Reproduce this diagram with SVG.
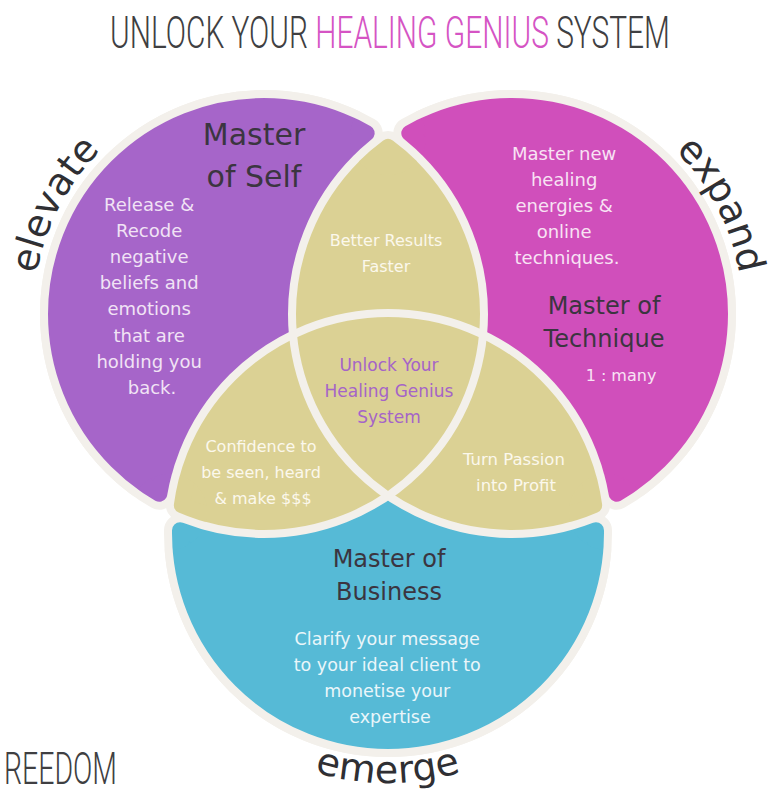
<svg xmlns="http://www.w3.org/2000/svg" width="773" height="791" viewBox="0 0 773 791">
<style>
.title{font-family:Roboto,"Liberation Sans",Arial,sans-serif;font-weight:300;font-size:45px;fill:#3f3f42}
.pink{fill:#d554c4}
.hd{font-family:"DejaVu Sans",sans-serif;fill:#3b3540;text-anchor:middle}
.body{font-family:"DejaVu Sans",sans-serif;text-anchor:middle}
.arc{font-family:"DejaVu Sans",sans-serif;font-size:38px;fill:#2f2f33}
.ring{fill:none;stroke:#f3f0eb;stroke-width:8}
.cr{fill:#f3f0eb;stroke:#f3f0eb;stroke-width:32;stroke-linejoin:round}
.in{stroke-width:16;stroke-linejoin:round}
.pu{fill:#a665c9;stroke:#a665c9}
.mg{fill:#d04fbb;stroke:#d04fbb}
.bl{fill:#56bad6;stroke:#56bad6}
.kh{fill:#dbd194;stroke:#dbd194}
</style>
<defs>
<clipPath id="cP"><circle cx="264" cy="314" r="220"/></clipPath>
<clipPath id="cM"><circle cx="512" cy="314" r="220"/></clipPath>
<mask id="kT" maskUnits="userSpaceOnUse" x="0" y="0" width="773" height="791"><circle cx="388" cy="137" r="38" fill="#ffffff"/></mask>
<mask id="kL" maskUnits="userSpaceOnUse" x="0" y="0" width="773" height="791"><circle cx="169" cy="512" r="38" fill="#ffffff"/></mask>
<mask id="kR" maskUnits="userSpaceOnUse" x="0" y="0" width="773" height="791"><circle cx="607" cy="512" r="38" fill="#ffffff"/></mask>
<path id="pT" d="M 264 106 A 208 208 0 0 1 366.71 133.13 A 232 232 0 0 0 294 234.65 Z"/>
<path id="lT" d="M 316.5 242.9 A 208 208 0 0 1 388 147 A 208 208 0 0 1 459.5 242.9 Z"/>
<path id="mT" d="M 512 106 A 208 208 0 0 0 409.29 133.13 A 232 232 0 0 1 482 234.65 Z"/>
<path id="pL" d="M 56 314 A 208 208 0 0 0 159.34 493.75 A 232 232 0 0 1 254.93 342.96 Z"/>
<path id="lL" d="M 284 352.87 A 208 208 0 0 0 181.88 505.1 A 208 208 0 0 0 368 494.13 Z"/>
<path id="bL" d="M 284 713.13 A 208 208 0 0 1 180.02 530.26 A 232 232 0 0 0 304.29 542.48 Z"/>
<path id="mR" d="M 720 314 A 208 208 0 0 1 616.66 493.75 A 232 232 0 0 0 521.07 342.96 Z"/>
<path id="lR" d="M 492 352.87 A 208 208 0 0 1 594.12 505.1 A 208 208 0 0 1 408 494.13 Z"/>
<path id="bR" d="M 492 713.13 A 208 208 0 0 0 595.98 530.26 A 232 232 0 0 1 471.71 542.48 Z"/>
<path id="arcElevate" d="M 33.9 293.9 A 231 231 0 0 1 115.5 137"/>
<path id="arcExpand" d="M 660.5 137 A 231 231 0 0 1 742.1 293.9"/>
<path id="arcEmerge" d="M 282.3 759.6 A 250 250 0 0 0 493.7 759.6"/>
</defs>
<rect width="773" height="791" fill="#ffffff"/>

<g id="title">
<text class="title" x="110" y="48" textLength="560" lengthAdjust="spacingAndGlyphs">UNLOCK YOUR <tspan class="pink">HEALING GENIUS</tspan> SYSTEM</text>
</g>

<g id="venn-shapes">
<circle cx="264" cy="314" r="224" fill="#f3f0eb"/>
<circle cx="512" cy="314" r="224" fill="#f3f0eb"/>
<circle cx="388" cy="533" r="224" fill="#f3f0eb"/>
<circle id="circle-self" cx="264" cy="314" r="220" fill="#a665c9"/>
<circle id="circle-technique" cx="512" cy="314" r="220" fill="#d04fbb"/>
<circle id="circle-business" cx="388" cy="533" r="220" fill="#56bad6"/>
<circle cx="512" cy="314" r="220" fill="#dbd194" clip-path="url(#cP)"/>
<circle cx="388" cy="533" r="220" fill="#dbd194" clip-path="url(#cP)"/>
<circle cx="388" cy="533" r="220" fill="#dbd194" clip-path="url(#cM)"/>
<circle class="ring" cx="264" cy="314" r="220"/>
<circle class="ring" cx="512" cy="314" r="220"/>
<circle class="ring" cx="388" cy="533" r="220"/>
</g>

<g id="rounded-notches">
<g mask="url(#kT)">
<rect x="340" y="90" width="100" height="100" fill="#ffffff"/>
<use href="#pT" class="cr"/><use href="#lT" class="cr"/><use href="#mT" class="cr"/>
<use href="#pT" class="in pu"/><use href="#lT" class="in kh"/><use href="#mT" class="in mg"/>
</g>
<g mask="url(#kL)">
<rect x="120" y="460" width="100" height="100" fill="#ffffff"/>
<use href="#pL" class="cr"/><use href="#lL" class="cr"/><use href="#bL" class="cr"/>
<use href="#pL" class="in pu"/><use href="#lL" class="in kh"/><use href="#bL" class="in bl"/>
</g>
<g mask="url(#kR)">
<rect x="556" y="460" width="100" height="100" fill="#ffffff"/>
<use href="#mR" class="cr"/><use href="#lR" class="cr"/><use href="#bR" class="cr"/>
<use href="#mR" class="in mg"/><use href="#lR" class="in kh"/><use href="#bR" class="in bl"/>
</g>
</g>

<g id="node-self">
<text class="hd" font-size="30"><tspan x="254" y="145">Master</tspan><tspan x="254" y="187">of Self</tspan></text>
<text class="body" font-size="18" fill="#f1e3f5">
<tspan x="152" y="211">Release &amp;</tspan>
<tspan x="152" y="237">Recode</tspan>
<tspan x="152" y="263">negative</tspan>
<tspan x="152" y="289">beliefs and</tspan>
<tspan x="152" y="315">emotions</tspan>
<tspan x="152" y="342">that are</tspan>
<tspan x="152" y="368">holding you</tspan>
<tspan x="152" y="394">back.</tspan>
</text>
<text class="arc"><textPath href="#arcElevate" startOffset="50%" text-anchor="middle">elevate</textPath></text>
</g>

<g id="node-technique">
<text class="body" font-size="18" fill="#f8e3f4">
<tspan x="567" y="160">Master new</tspan>
<tspan x="567" y="186">healing</tspan>
<tspan x="567" y="212">energies &amp;</tspan>
<tspan x="567" y="238">online</tspan>
<tspan x="567" y="264">techniques.</tspan>
</text>
<text class="hd" font-size="24"><tspan x="604" y="314">Master of</tspan><tspan x="604" y="347">Technique</tspan></text>
<text class="body" font-size="16" fill="#f8e3f4" x="621" y="381">1 : many</text>
<text class="arc"><textPath href="#arcExpand" startOffset="50%" text-anchor="middle">expand</textPath></text>
</g>

<g id="node-business">
<text class="hd" font-size="24"><tspan x="389" y="567">Master of</tspan><tspan x="389" y="600">Business</tspan></text>
<text class="body" font-size="17.5" fill="#eaf6fa">
<tspan x="390" y="645">Clarify your message</tspan>
<tspan x="390" y="671">to your ideal client to</tspan>
<tspan x="390" y="697">monetise your</tspan>
<tspan x="390" y="723">expertise</tspan>
</text>
<text class="arc" font-size="41" letter-spacing="0.5"><textPath href="#arcEmerge" startOffset="50%" text-anchor="middle">emerge</textPath></text>
</g>

<g id="node-better-results">
<text class="body" font-size="16" fill="#fbf8ec"><tspan x="386" y="246">Better Results</tspan><tspan x="386" y="272">Faster</tspan></text>
</g>

<g id="node-center">
<text class="body" font-size="17" fill="#a564c8"><tspan x="389" y="371">Unlock Your</tspan><tspan x="389" y="397">Healing Genius</tspan><tspan x="389" y="423">System</tspan></text>
</g>

<g id="node-confidence">
<text class="body" font-size="16" fill="#fbf8ec"><tspan x="261" y="452">Confidence to</tspan><tspan x="261" y="478">be seen, heard</tspan><tspan x="263" y="504">&amp; make $$$</tspan></text>
</g>

<g id="node-passion">
<text class="body" font-size="16.5" fill="#fbf8ec"><tspan x="514" y="465">Turn Passion</tspan><tspan x="516" y="491">into Profit</tspan></text>
</g>

<g id="footer">
<text class="title" x="4" y="784" textLength="113" lengthAdjust="spacingAndGlyphs">REEDOM</text>
</g>
</svg>
